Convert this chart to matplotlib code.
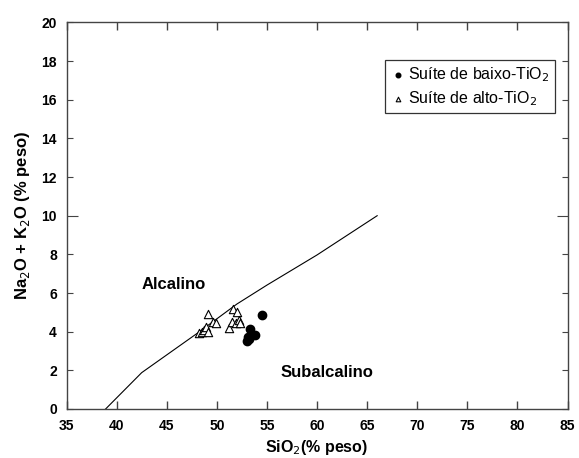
import matplotlib
matplotlib.use("Agg")
import matplotlib.pyplot as plt

plt.rcParams['font.family'] = ['Liberation Sans', 'DejaVu Sans']

# boundary line alcalino / subalcalino
boundary_x = [38.9, 42.5, 48.0, 52.0, 55.0, 60.0, 66.0]
boundary_y = [0.0, 1.88, 3.9, 5.43, 6.41, 7.97, 10.0]

# Suite de baixo-TiO2
baixo_sio2 = [54.5, 53.3, 53.8, 53.15, 53.0, 53.2]
baixo_alk = [4.88, 4.12, 3.82, 3.74, 3.52, 3.62]

# Suite de alto-TiO2
alto_sio2 = [48.2, 48.5, 48.7, 48.9, 49.1, 49.1, 49.6, 49.9,
             51.2, 51.5, 51.6, 51.9, 52.0, 52.2, 52.3]
alto_alk = [3.92, 4.0, 4.1, 4.25, 4.0, 4.9, 4.5, 4.47,
            4.17, 4.52, 5.15, 4.45, 5.03, 4.6, 4.45]

xticks = [35, 40, 45, 50, 55, 60, 65, 70, 75, 80, 85]
yticks = [0, 2, 4, 6, 8, 10, 12, 14, 16, 18, 20]

fig = plt.figure(figsize=(5.79, 4.58), dpi=100)
ax = fig.add_axes([0.1149, 0.107, 0.8653, 0.844])

ax.plot(boundary_x, boundary_y, color='black', linewidth=0.8)
ax.scatter(baixo_sio2, baixo_alk, s=36, color='black', marker='o', zorder=3,
           label='Suíte de baixo-TiO$_2$')
ax.scatter(alto_sio2, alto_alk, s=36, facecolor='white', edgecolor='black',
           linewidth=0.8, marker='^', zorder=3, label='Suíte de alto-TiO$_2$')

ax.text(45.7, 6.45, 'Alcalino', fontsize=12, fontweight='bold',
        ha='center', va='center')
ax.text(61.0, 1.9, 'Subalcalino', fontsize=12, fontweight='bold',
        ha='center', va='center')

ax.set_xlim(35, 85)
ax.set_ylim(0, 20)
ax.set_xticks(xticks)
ax.set_yticks(yticks)
ax.tick_params(axis='x', direction='in', top=True, length=6, width=1,
               color='#444444', labelsize=10, pad=7)
ax.tick_params(axis='y', direction='in', right=True, length=4, width=0.8,
               color='#444444', labelsize=10, pad=7)
for lab in ax.get_xticklabels() + ax.get_yticklabels():
    lab.set_fontweight('bold')
ticks_y = ax.yaxis.get_major_ticks()
ticks_y[5].tick1line.set_markersize(8)
ticks_y[5].tick2line.set_markersize(8)
for sp in ax.spines.values():
    sp.set_color('#444444')
    sp.set_linewidth(1)

ax.set_xlabel('SiO$_2$(% peso)', fontsize=11.5, fontweight='bold', labelpad=4)
ax.set_ylabel('Na$_2$O + K$_2$O (% peso)', fontsize=12, fontweight='bold',
              labelpad=7)

leg = ax.legend(loc='upper right', bbox_to_anchor=(0.975, 0.903),
                fontsize=11.5, frameon=True, fancybox=False, markerscale=0.55,
                handletextpad=0.2, handlelength=0.9, borderpad=0.35,
                labelspacing=0.3, borderaxespad=0)
leg.get_frame().set_edgecolor('black')
leg.get_frame().set_linewidth(0.9)

fig.savefig('out.png', dpi=100)
